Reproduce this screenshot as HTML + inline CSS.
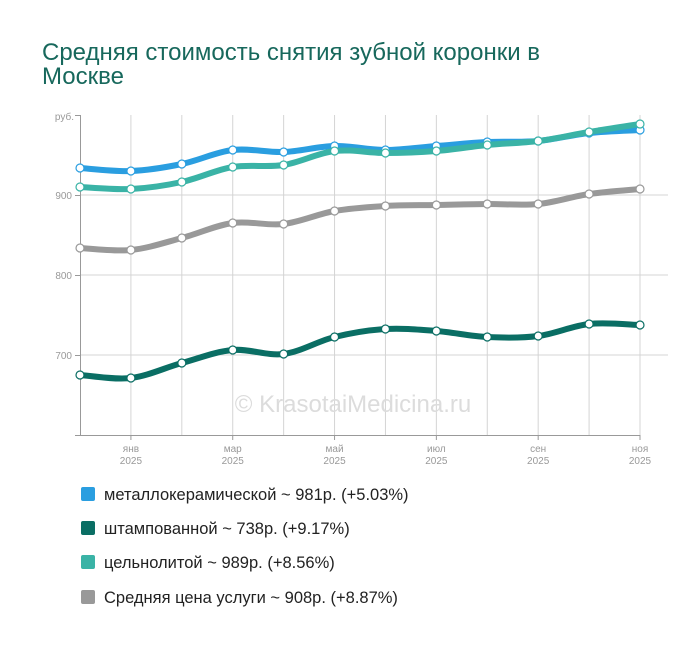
<!DOCTYPE html><html><head><meta charset="utf-8"><style>
body{margin:0;background:#fff;width:700px;height:646px;overflow:hidden;font-family:"Liberation Sans",sans-serif}
</style></head><body>
<svg id="s" width="700" height="646" xmlns="http://www.w3.org/2000/svg" font-family="Liberation Sans, sans-serif">
<text x="42" y="60" font-size="24" fill="#17685c">Средняя стоимость снятия зубной коронки в</text>
<text x="42" y="84" font-size="24" fill="#17685c">Москве</text>
<g id="grid" stroke="#d4d4d4" stroke-width="1"></g>
<line x1="80" y1="195" x2="668" y2="195" stroke="#d4d4d4"/>
<line x1="80" y1="275" x2="668" y2="275" stroke="#d4d4d4"/>
<line x1="80" y1="355" x2="668" y2="355" stroke="#d4d4d4"/>
<text x="353" y="412" font-size="24" fill="#dcdcdc" text-anchor="middle">© KrasotaiMedicina.ru</text>
<line x1="80.5" y1="115" x2="80.5" y2="435" stroke="#999"/>
<line x1="75" y1="435.5" x2="640" y2="435.5" stroke="#999"/>
<line x1="75" y1="115.5" x2="80" y2="115.5" stroke="#999"/>
<line x1="75" y1="195.5" x2="80" y2="195.5" stroke="#999"/>
<line x1="75" y1="275.5" x2="80" y2="275.5" stroke="#999"/>
<line x1="75" y1="355.5" x2="80" y2="355.5" stroke="#999"/>
<g font-size="10" fill="#999" text-anchor="end">
<text x="74" y="120">руб.</text><text x="72" y="199">900</text><text x="72" y="279">800</text><text x="72" y="359">700</text>
</g>
<g id="xl" font-size="10" fill="#999" text-anchor="middle"></g>
<g id="lines"></g>
<g font-size="16.5" fill="#222">
<rect x="81" y="487" width="14" height="14" rx="2" fill="#2a9ee0"/><text x="104" y="500">металлокерамической ~ 981р. (+5.03%)</text>
<rect x="81" y="521" width="14" height="14" rx="2" fill="#0a6e64"/><text x="104" y="534">штампованной ~ 738р. (+9.17%)</text>
<rect x="81" y="555" width="14" height="14" rx="2" fill="#3ab3a6"/><text x="104" y="568">цельнолитой ~ 989р. (+8.56%)</text>
<rect x="81" y="590" width="14" height="14" rx="2" fill="#999"/><text x="104" y="603">Средняя цена услуги ~ 908р. (+8.87%)</text>
</g>
</svg>
<script>
var xs=[];for(var i=0;i<12;i++)xs.push(80+i*(560/11));
var g=document.getElementById('grid'),h='';
for(var i=1;i<12;i++){h+='<line x1="'+xs[i]+'" y1="115" x2="'+xs[i]+'" y2="435"/>';}
g.innerHTML=h;
var m=['янв','мар','май','июл','сен','ноя'],xl='';
for(var k=0;k<6;k++){var x=xs[1+2*k];xl+='<line x1="'+x+'" y1="435" x2="'+x+'" y2="440" stroke="#999"/><text x="'+x+'" y="452">'+m[k]+'</text><text x="'+x+'" y="464">2025</text>';}
document.getElementById('xl').innerHTML=xl;
var S=[
['#999',[248,250,238,223,224,211,206,205,204,204,194,189]],
['#0a6e64',[375,378,363,350,354,337,329,331,337,336,324,325]],
['#2a9ee0',[168,171,164,150,152,146,150,146,142,141,133,130]],
['#3ab3a6',[187,189,182,167,165,151,153,151,145,141,132,124]]
];
var out='';
S.forEach(function(s){var y=s[1],c=s[0],d='M'+xs[0]+','+y[0];
for(var i=0;i<11;i++){var p0=i?i-1:0,p3=i<10?i+2:11;
var c1x=xs[i]+(xs[i+1]-xs[p0])/6,c1y=y[i]+(y[i+1]-y[p0])/6,c2x=xs[i+1]-(xs[p3]-xs[i])/6,c2y=y[i+1]-(y[p3]-y[i])/6;
d+=' C'+c1x+','+c1y+' '+c2x+','+c2y+' '+xs[i+1]+','+y[i+1];}
out+='<path d="'+d+'" fill="none" stroke="'+c+'" stroke-width="6" stroke-linecap="round"/>';
for(var i=0;i<12;i++)out+='<circle cx="'+xs[i]+'" cy="'+y[i]+'" r="4" fill="#fff" stroke="'+c+'" stroke-width="1.2"/>';});
document.getElementById('lines').innerHTML=out;
</script>
</body></html>
